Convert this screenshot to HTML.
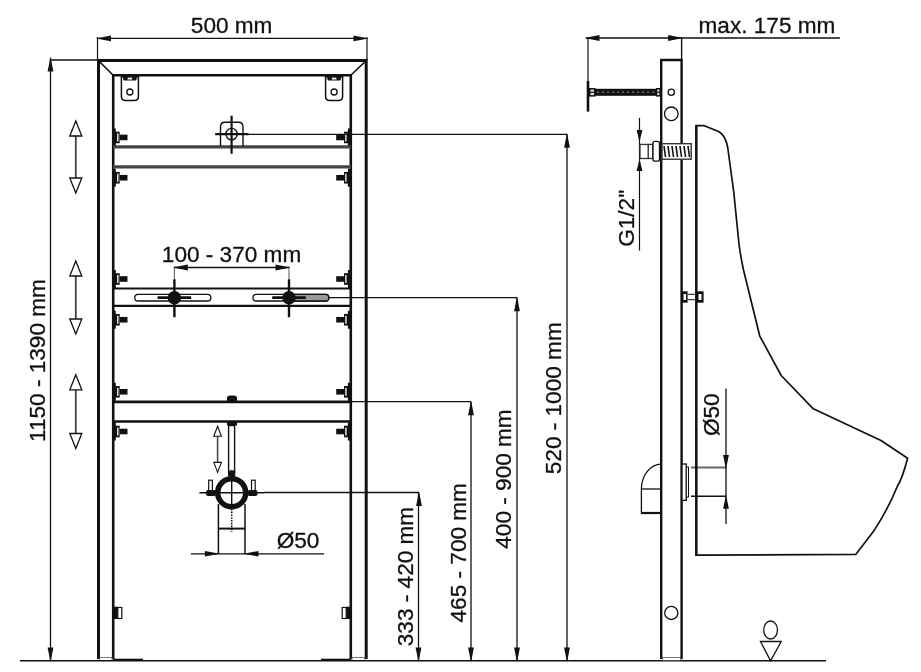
<!DOCTYPE html>
<html><head><meta charset="utf-8"><style>
html,body{margin:0;padding:0;background:#fff;}
svg{display:block;filter:blur(0.4px);}
text{font-family:"Liberation Sans",sans-serif;fill:#111;stroke:#111;stroke-width:0.3px;}
</style></head><body>
<svg width="921" height="672" viewBox="0 0 921 672">
<rect width="921" height="672" fill="#fff"/>
<line x1="97.5" y1="38.4" x2="367" y2="38.4" stroke="#111" stroke-width="1.3" />
<polygon points="96.00,38.40 111.00,35.50 111.00,41.30" fill="#111"/>
<polygon points="368.50,38.40 353.50,35.50 353.50,41.30" fill="#111"/>
<line x1="97.5" y1="37" x2="97.5" y2="60" stroke="#111" stroke-width="1.2" />
<line x1="367" y1="37" x2="367" y2="60" stroke="#111" stroke-width="1.2" />
<text x="231.65" y="32.5" font-size="22.6" text-anchor="middle">500 mm</text>
<line x1="50.5" y1="58" x2="50.5" y2="661" stroke="#111" stroke-width="1.3" />
<polygon points="50.50,56.50 47.60,71.50 53.40,71.50" fill="#111"/>
<polygon points="50.50,662.50 47.60,647.50 53.40,647.50" fill="#111"/>
<line x1="50.5" y1="60" x2="97" y2="60" stroke="#111" stroke-width="1.3" />
<text x="0" y="0" font-size="22.6" text-anchor="middle" transform="translate(44.9,360.5) rotate(-90)">1150 - 1390 mm</text>
<path d="M98.5,659 V60.6 H366.2 V659" fill="none" stroke="#111" stroke-width="3"/>
<path d="M113.2,659 V75.2 H350.8 V659" fill="none" stroke="#111" stroke-width="2.6"/>
<line x1="98.5" y1="60.6" x2="113.2" y2="75.2" stroke="#111" stroke-width="1.5" />
<line x1="366.2" y1="60.6" x2="350.8" y2="75.2" stroke="#111" stroke-width="1.5" />
<rect x="99.5" y="657.5" width="12.5" height="3" fill="none" stroke="#555" stroke-width="0.8"/>
<rect x="352" y="657.5" width="13" height="3" fill="none" stroke="#555" stroke-width="0.8"/>
<line x1="20" y1="660.8" x2="826" y2="660.8" stroke="#111" stroke-width="1.5" />
<line x1="113" y1="659.8" x2="143" y2="659.8" stroke="#111" stroke-width="2.2" />
<line x1="321" y1="659.8" x2="351" y2="659.8" stroke="#111" stroke-width="2.2" />
<path d="M121.4,75 V96.5 Q121.4,100.5 125.4,100.5 H134.4 Q138.4,100.5 138.4,96.5 V75" fill="none" stroke="#111" stroke-width="1.5"/>
<circle cx="129.9" cy="92" r="3" fill="none" stroke="#111" stroke-width="1.3"/>
<rect x="121.4" y="75" width="17" height="2.6" fill="#111"/>
<path d="M123.2,76 V79.2 Q123.2,80.4 124.4,80.4 H135.4 Q136.6,80.4 136.6,79.2 V76 Z" fill="#111"/>
<rect x="127.60000000000001" y="77.6" width="4.6" height="2" fill="#e8e8e8"/>
<path d="M325.6,75 V96.5 Q325.6,100.5 329.6,100.5 H338.6 Q342.6,100.5 342.6,96.5 V75" fill="none" stroke="#111" stroke-width="1.5"/>
<circle cx="334.1" cy="92" r="3" fill="none" stroke="#111" stroke-width="1.3"/>
<rect x="325.6" y="75" width="17" height="2.6" fill="#111"/>
<path d="M327.40000000000003,76 V79.2 Q327.40000000000003,80.4 328.6,80.4 H339.6 Q340.8,80.4 340.8,79.2 V76 Z" fill="#111"/>
<rect x="331.8" y="77.6" width="4.6" height="2" fill="#e8e8e8"/>
<line x1="75.8" y1="136" x2="75.8" y2="178" stroke="#444" stroke-width="1.8199999999999998" />
<polygon points="75.8,121 69.8,136 81.8,136" fill="#fff" stroke="#111" stroke-width="1.3"/>
<polygon points="75.8,193 69.8,178 81.8,178" fill="#fff" stroke="#111" stroke-width="1.3"/>
<line x1="75.8" y1="276" x2="75.8" y2="319" stroke="#444" stroke-width="1.8199999999999998" />
<polygon points="75.8,261 69.8,276 81.8,276" fill="#fff" stroke="#111" stroke-width="1.3"/>
<polygon points="75.8,334 69.8,319 81.8,319" fill="#fff" stroke="#111" stroke-width="1.3"/>
<line x1="75.8" y1="389.8" x2="75.8" y2="433.5" stroke="#444" stroke-width="1.8199999999999998" />
<polygon points="75.8,374.8 69.8,389.8 81.8,389.8" fill="#fff" stroke="#111" stroke-width="1.3"/>
<polygon points="75.8,448.5 69.8,433.5 81.8,433.5" fill="#fff" stroke="#111" stroke-width="1.3"/>
<rect x="112.5" y="128.45" width="3.3" height="18" fill="#111"/>
<rect x="113" y="131.64999999999998" width="6.7" height="11.6" fill="#111"/>
<rect x="117.1" y="133.45" width="1.4" height="8" fill="#eee"/>
<rect x="119.7" y="134.64999999999998" width="7.8" height="5.6" fill="#111"/>
<rect x="347.9" y="128.45" width="3.3" height="18" fill="#111"/>
<rect x="344.0" y="131.64999999999998" width="6.7" height="11.6" fill="#111"/>
<rect x="345.20000000000005" y="133.45" width="1.4" height="8" fill="#eee"/>
<rect x="336.2" y="134.64999999999998" width="7.8" height="5.6" fill="#111"/>
<rect x="112.5" y="168.75" width="3.3" height="18" fill="#111"/>
<rect x="113" y="171.95" width="6.7" height="11.6" fill="#111"/>
<rect x="117.1" y="173.75" width="1.4" height="8" fill="#eee"/>
<rect x="119.7" y="174.95" width="7.8" height="5.6" fill="#111"/>
<rect x="347.9" y="168.75" width="3.3" height="18" fill="#111"/>
<rect x="344.0" y="171.95" width="6.7" height="11.6" fill="#111"/>
<rect x="345.20000000000005" y="173.75" width="1.4" height="8" fill="#eee"/>
<rect x="336.2" y="174.95" width="7.8" height="5.6" fill="#111"/>
<rect x="112.5" y="270" width="3.3" height="18" fill="#111"/>
<rect x="113" y="273.2" width="6.7" height="11.6" fill="#111"/>
<rect x="117.1" y="275" width="1.4" height="8" fill="#eee"/>
<rect x="119.7" y="276.2" width="7.8" height="5.6" fill="#111"/>
<rect x="347.9" y="270" width="3.3" height="18" fill="#111"/>
<rect x="344.0" y="273.2" width="6.7" height="11.6" fill="#111"/>
<rect x="345.20000000000005" y="275" width="1.4" height="8" fill="#eee"/>
<rect x="336.2" y="276.2" width="7.8" height="5.6" fill="#111"/>
<rect x="112.5" y="310.75" width="3.3" height="18" fill="#111"/>
<rect x="113" y="313.95" width="6.7" height="11.6" fill="#111"/>
<rect x="117.1" y="315.75" width="1.4" height="8" fill="#eee"/>
<rect x="119.7" y="316.95" width="7.8" height="5.6" fill="#111"/>
<rect x="347.9" y="310.75" width="3.3" height="18" fill="#111"/>
<rect x="344.0" y="313.95" width="6.7" height="11.6" fill="#111"/>
<rect x="345.20000000000005" y="315.75" width="1.4" height="8" fill="#eee"/>
<rect x="336.2" y="316.95" width="7.8" height="5.6" fill="#111"/>
<rect x="112.5" y="382.8" width="3.3" height="18" fill="#111"/>
<rect x="113" y="386.0" width="6.7" height="11.6" fill="#111"/>
<rect x="117.1" y="387.8" width="1.4" height="8" fill="#eee"/>
<rect x="119.7" y="389.0" width="7.8" height="5.6" fill="#111"/>
<rect x="347.9" y="382.8" width="3.3" height="18" fill="#111"/>
<rect x="344.0" y="386.0" width="6.7" height="11.6" fill="#111"/>
<rect x="345.20000000000005" y="387.8" width="1.4" height="8" fill="#eee"/>
<rect x="336.2" y="389.0" width="7.8" height="5.6" fill="#111"/>
<rect x="112.5" y="422.5" width="3.3" height="18" fill="#111"/>
<rect x="113" y="425.7" width="6.7" height="11.6" fill="#111"/>
<rect x="117.1" y="427.5" width="1.4" height="8" fill="#eee"/>
<rect x="119.7" y="428.7" width="7.8" height="5.6" fill="#111"/>
<rect x="347.9" y="422.5" width="3.3" height="18" fill="#111"/>
<rect x="344.0" y="425.7" width="6.7" height="11.6" fill="#111"/>
<rect x="345.20000000000005" y="427.5" width="1.4" height="8" fill="#eee"/>
<rect x="336.2" y="428.7" width="7.8" height="5.6" fill="#111"/>
<line x1="113" y1="146.9" x2="351" y2="146.9" stroke="#444" stroke-width="3.2" />
<line x1="113" y1="166.9" x2="351" y2="166.9" stroke="#444" stroke-width="3.2" />
<path d="M220.5,146 V127 Q220.5,122.3 225,122.3 H238.5 Q243,122.3 243,127 V146" fill="none" stroke="#111" stroke-width="1.4"/>
<circle cx="231.6" cy="134.1" r="5.7" fill="none" stroke="#111" stroke-width="1.4"/>
<line x1="231.6" y1="115.7" x2="231.6" y2="153.8" stroke="#111" stroke-width="2.2" />
<line x1="215.2" y1="134.1" x2="248.4" y2="134.1" stroke="#111" stroke-width="2.2" />
<line x1="248" y1="134.3" x2="567" y2="134.3" stroke="#111" stroke-width="1.3" />
<polygon points="567.00,132.80 564.10,147.80 569.90,147.80" fill="#111"/>
<line x1="113" y1="288.5" x2="351" y2="288.5" stroke="#111" stroke-width="2.2" />
<line x1="113" y1="305.8" x2="351" y2="305.8" stroke="#111" stroke-width="2.2" />
<rect x="134.8" y="294.4" width="76.0" height="6.6" rx="3.3" fill="#fff" stroke="#111" stroke-width="1.3"/>
<rect x="253" y="294.4" width="75.80000000000001" height="6.6" rx="3.3" fill="#fff" stroke="#111" stroke-width="1.3"/>
<path d="M289,294.4 H325.5 A3.3,3.3 0 0 1 325.5,301 H289 Z" fill="#999" stroke="#111" stroke-width="1.3"/>
<circle cx="174.4" cy="297.7" r="6.8" fill="#111"/>
<line x1="157.6" y1="297.7" x2="191.20000000000002" y2="297.7" stroke="#111" stroke-width="2.8" />
<line x1="174.4" y1="279.2" x2="174.4" y2="317.2" stroke="#111" stroke-width="2.4" />
<line x1="174.4" y1="266.5" x2="174.4" y2="279.2" stroke="#666" stroke-width="1.1" />
<circle cx="289" cy="297.7" r="6.8" fill="#111"/>
<line x1="272.2" y1="297.7" x2="305.8" y2="297.7" stroke="#111" stroke-width="2.8" />
<line x1="289" y1="279.2" x2="289" y2="317.2" stroke="#111" stroke-width="2.4" />
<line x1="289" y1="266.5" x2="289" y2="279.2" stroke="#666" stroke-width="1.1" />
<line x1="174.4" y1="267.5" x2="289" y2="267.5" stroke="#111" stroke-width="1.3" />
<polygon points="172.90,267.50 187.90,264.60 187.90,270.40" fill="#111"/>
<polygon points="290.50,267.50 275.50,264.60 275.50,270.40" fill="#111"/>
<text x="231.55" y="262" font-size="22.6" text-anchor="middle">100 - 370 mm</text>
<line x1="329" y1="297.7" x2="517" y2="297.7" stroke="#111" stroke-width="1.3" />
<polygon points="517.00,296.20 514.10,311.20 519.90,311.20" fill="#111"/>
<line x1="113" y1="401.9" x2="351" y2="401.9" stroke="#111" stroke-width="2.6" />
<line x1="113" y1="421.5" x2="351" y2="421.5" stroke="#111" stroke-width="2.6" />
<line x1="351" y1="401.7" x2="471" y2="401.7" stroke="#111" stroke-width="1.3" />
<polygon points="471.00,400.20 468.10,415.20 473.90,415.20" fill="#111"/>
<path d="M227,401.9 V398 Q227,395.4 230,395.4 H234 Q237,395.4 237,398 V401.9 Z" fill="#111"/>
<rect x="227" y="421.5" width="10" height="4" fill="#111"/>
<rect x="228.6" y="425.5" width="6" height="47" fill="#fff" stroke="#111" stroke-width="1.4"/>
<rect x="228" y="470.5" width="7.2" height="6" fill="#111"/>
<line x1="217.6" y1="436.3" x2="217.6" y2="462.4" stroke="#444" stroke-width="1.54" />
<polygon points="217.6,426.3 213.79999999999998,436.3 221.4,436.3" fill="#fff" stroke="#111" stroke-width="1.1"/>
<polygon points="217.6,472.4 213.79999999999998,462.4 221.4,462.4" fill="#fff" stroke="#111" stroke-width="1.1"/>
<circle cx="231.7" cy="492.7" r="14" fill="none" stroke="#111" stroke-width="5.5"/>
<line x1="199.4" y1="492.7" x2="264" y2="492.7" stroke="#111" stroke-width="1.6" />
<line x1="231.7" y1="470" x2="231.7" y2="506" stroke="#111" stroke-width="1.4" />
<line x1="231.7" y1="506" x2="231.7" y2="532" stroke="#111" stroke-width="1.5" stroke-dasharray="1.6,1.2"/>
<rect x="208.7" y="480.2" width="3.7" height="13" fill="#fff" stroke="#111" stroke-width="1.2"/>
<rect x="251.5" y="480.2" width="3.7" height="13" fill="#fff" stroke="#111" stroke-width="1.2"/>
<rect x="206" y="490" width="10" height="6" rx="2" fill="#111"/>
<rect x="247.5" y="490" width="10" height="6" rx="2" fill="#111"/>
<line x1="264" y1="492.5" x2="419" y2="492.5" stroke="#111" stroke-width="1.3" />
<polygon points="419.00,491.00 416.10,506.00 421.90,506.00" fill="#111"/>
<line x1="218.4" y1="504" x2="218.4" y2="554" stroke="#111" stroke-width="1.5" />
<line x1="245" y1="504" x2="245" y2="554" stroke="#111" stroke-width="1.5" />
<line x1="218.4" y1="528.6" x2="245" y2="528.6" stroke="#111" stroke-width="2" />
<line x1="191" y1="553.8" x2="324" y2="553.8" stroke="#111" stroke-width="1.3" />
<polygon points="219.90,553.80 204.90,551.00 204.90,556.60" fill="#111"/>
<polygon points="243.50,553.80 258.50,551.00 258.50,556.60" fill="#111"/>
<text x="298" y="548" font-size="22.6" text-anchor="middle">Ø50</text>
<rect x="113.5" y="606.7" width="4.3" height="12.3" fill="#111"/>
<rect x="117.8" y="607.5" width="4" height="11" fill="#fff" stroke="#111" stroke-width="1.2"/>
<rect x="346.2" y="606.7" width="4.3" height="12.3" fill="#111"/>
<rect x="342.2" y="607.5" width="4" height="11" fill="#fff" stroke="#111" stroke-width="1.2"/>
<line x1="418.5" y1="492.5" x2="418.5" y2="661" stroke="#111" stroke-width="1.3" />
<polygon points="418.50,662.50 415.60,647.50 421.40,647.50" fill="#111"/>
<text x="0" y="0" font-size="22.6" text-anchor="middle" transform="translate(413.1,576.5) rotate(-90)">333 - 420 mm</text>
<line x1="471" y1="401.7" x2="471" y2="661" stroke="#111" stroke-width="1.3" />
<polygon points="471.00,662.50 468.10,647.50 473.90,647.50" fill="#111"/>
<text x="0" y="0" font-size="22.6" text-anchor="middle" transform="translate(465.5,552.75) rotate(-90)">465 - 700 mm</text>
<line x1="517" y1="297.7" x2="517" y2="661" stroke="#111" stroke-width="1.3" />
<polygon points="517.00,662.50 514.10,647.50 519.90,647.50" fill="#111"/>
<text x="0" y="0" font-size="22.6" text-anchor="middle" transform="translate(510.6,479) rotate(-90)">400 - 900 mm</text>
<line x1="567" y1="134.3" x2="567" y2="661" stroke="#111" stroke-width="1.3" />
<polygon points="567.00,662.50 564.10,647.50 569.90,647.50" fill="#111"/>
<text x="0" y="0" font-size="22.6" text-anchor="middle" transform="translate(560.5,398.25) rotate(-90)">520 - 1000 mm</text>
<line x1="586" y1="38" x2="840" y2="38" stroke="#111" stroke-width="1.3" />
<polygon points="584.50,38.00 599.50,35.10 599.50,40.90" fill="#111"/>
<polygon points="683.10,38.00 668.10,35.10 668.10,40.90" fill="#111"/>
<text x="766.95" y="32.5" font-size="22.6" text-anchor="middle">max. 175 mm</text>
<line x1="588" y1="38" x2="588" y2="81" stroke="#111" stroke-width="1.2" />
<line x1="588" y1="81" x2="588" y2="111.6" stroke="#111" stroke-width="2.6" />
<path d="M661.2,659 V60 H681.6 V659" fill="none" stroke="#111" stroke-width="2.4"/>
<line x1="681.6" y1="37" x2="681.6" y2="60" stroke="#111" stroke-width="1.4" />
<rect x="662.5" y="657.5" width="18" height="3" fill="none" stroke="#555" stroke-width="0.8"/>
<rect x="595" y="88.8" width="61" height="7" fill="#111"/>
<line x1="597" y1="92.3" x2="655" y2="92.3" stroke="#666" stroke-width="1.6" stroke-dasharray="2.2,2.8"/>
<rect x="589" y="88" width="6.5" height="8.6" fill="#111"/>
<rect x="590.5" y="89.5" width="3.5" height="2.2" fill="#ddd"/><rect x="590.5" y="92.9" width="3.5" height="2.2" fill="#ddd"/>
<rect x="656" y="88" width="4.6" height="8.6" fill="#111"/>
<rect x="657.2" y="89.5" width="2.2" height="2.2" fill="#ddd"/><rect x="657.2" y="92.9" width="2.2" height="2.2" fill="#ddd"/>
<circle cx="671.3" cy="92.3" r="3.1" fill="none" stroke="#111" stroke-width="1.3"/>
<circle cx="671.3" cy="113.8" r="6.8" fill="none" stroke="#111" stroke-width="1.3"/>
<circle cx="671.3" cy="612.9" r="6.6" fill="none" stroke="#111" stroke-width="1.3"/>
<line x1="639.5" y1="117.8" x2="639.5" y2="160" stroke="#111" stroke-width="1.2" />
<polygon points="639.50,142.00 636.60,130.00 642.40,130.00" fill="#111"/>
<line x1="639.5" y1="160.4" x2="639.5" y2="250.6" stroke="#111" stroke-width="1.2" />
<polygon points="639.50,158.90 636.60,170.90 642.40,170.90" fill="#111"/>
<text x="0" y="0" font-size="22.6" text-anchor="middle" transform="translate(633.6,218.3) rotate(-90)">G1/2"</text>
<rect x="640" y="144.4" width="12.8" height="14.1" fill="#fff" stroke="#333" stroke-width="1.3"/>
<line x1="648.2" y1="144.4" x2="648.2" y2="158.5" stroke="#111" stroke-width="1.2" />
<rect x="653" y="141.4" width="6.5" height="19.8" rx="2" fill="#fff" stroke="#111" stroke-width="1.3"/>
<rect x="662" y="143.7" width="29.2" height="15.5" fill="#fff" stroke="#333" stroke-width="1.4"/>
<line x1="664" y1="146" x2="665.5" y2="157" stroke="#111" stroke-width="1.6" />
<line x1="668" y1="146" x2="669.5" y2="157" stroke="#111" stroke-width="1.6" />
<line x1="672" y1="146" x2="673.5" y2="157" stroke="#111" stroke-width="1.6" />
<line x1="676" y1="146" x2="677.5" y2="157" stroke="#111" stroke-width="1.6" />
<line x1="680" y1="146" x2="681.5" y2="157" stroke="#111" stroke-width="1.6" />
<line x1="684" y1="146" x2="685.5" y2="157" stroke="#111" stroke-width="1.6" />
<line x1="688" y1="146" x2="689.5" y2="157" stroke="#111" stroke-width="1.6" />
<rect x="681.6" y="291.3" width="6" height="11.4" fill="#111"/>
<rect x="683.5" y="294" width="2.6" height="6" fill="#fff"/>
<rect x="696.4" y="291.3" width="7.2" height="11.4" fill="#111"/>
<rect x="698.5" y="294" width="3" height="6" fill="#fff"/>
<line x1="687.6" y1="294.3" x2="696.4" y2="294.3" stroke="#111" stroke-width="1" />
<line x1="687.6" y1="299.7" x2="696.4" y2="299.7" stroke="#111" stroke-width="1" />
<path d="M661,464.1 A20,25 0 0 0 641.4,489 V513 H661" fill="none" stroke="#111" stroke-width="1.3"/>
<line x1="641.4" y1="489" x2="661" y2="489" stroke="#111" stroke-width="1.3" />
<line x1="641.4" y1="513" x2="661" y2="513" stroke="#111" stroke-width="2.2" />
<rect x="682" y="464" width="4.3" height="36.3" fill="#fff" stroke="#111" stroke-width="1.3"/>
<rect x="686.3" y="467" width="2.2" height="30" fill="#fff" stroke="#111" stroke-width="1"/>
<line x1="691" y1="467.5" x2="726" y2="467.5" stroke="#666" stroke-width="1.8" />
<line x1="691" y1="496.3" x2="726" y2="496.3" stroke="#111" stroke-width="1.4" />
<line x1="726" y1="388.5" x2="726" y2="496.3" stroke="#111" stroke-width="1.3" />
<polygon points="726.00,469.00 723.10,455.00 728.90,455.00" fill="#111"/>
<line x1="726" y1="496.3" x2="726" y2="524" stroke="#111" stroke-width="1.3" />
<polygon points="726.00,494.80 723.10,508.80 728.90,508.80" fill="#111"/>
<text x="0" y="0" font-size="22.6" text-anchor="middle" transform="translate(719.1,414.7) rotate(-90)">Ø50</text>
<path d="M696.3,555.2 V125.7 H704.3 L718.6,131.5 Q723.5,134.5 725.7,140.5 Q727,143 727.8,148 L733.8,192.5 L739,244 Q740.5,256 743.5,270 L759.8,336.2 L781.2,375.5 L813.3,408.8 L881,440.5 L907.6,458.2 C904,472 900,482 897.5,486 C891,502 883,517 873.4,531.6 L855.7,554.4 Z" fill="none" stroke="#111" stroke-width="1.7" stroke-linejoin="round"/>
<line x1="696.3" y1="125" x2="696.3" y2="556" stroke="#111" stroke-width="2.4" />
<ellipse cx="770.6" cy="630" rx="6.9" ry="9" fill="none" stroke="#111" stroke-width="1.3"/>
<polygon points="760.5,641.5 781.2,641.5 770.6,660.8" fill="#fff" stroke="#111" stroke-width="1.3"/>
</svg>
</body></html>
